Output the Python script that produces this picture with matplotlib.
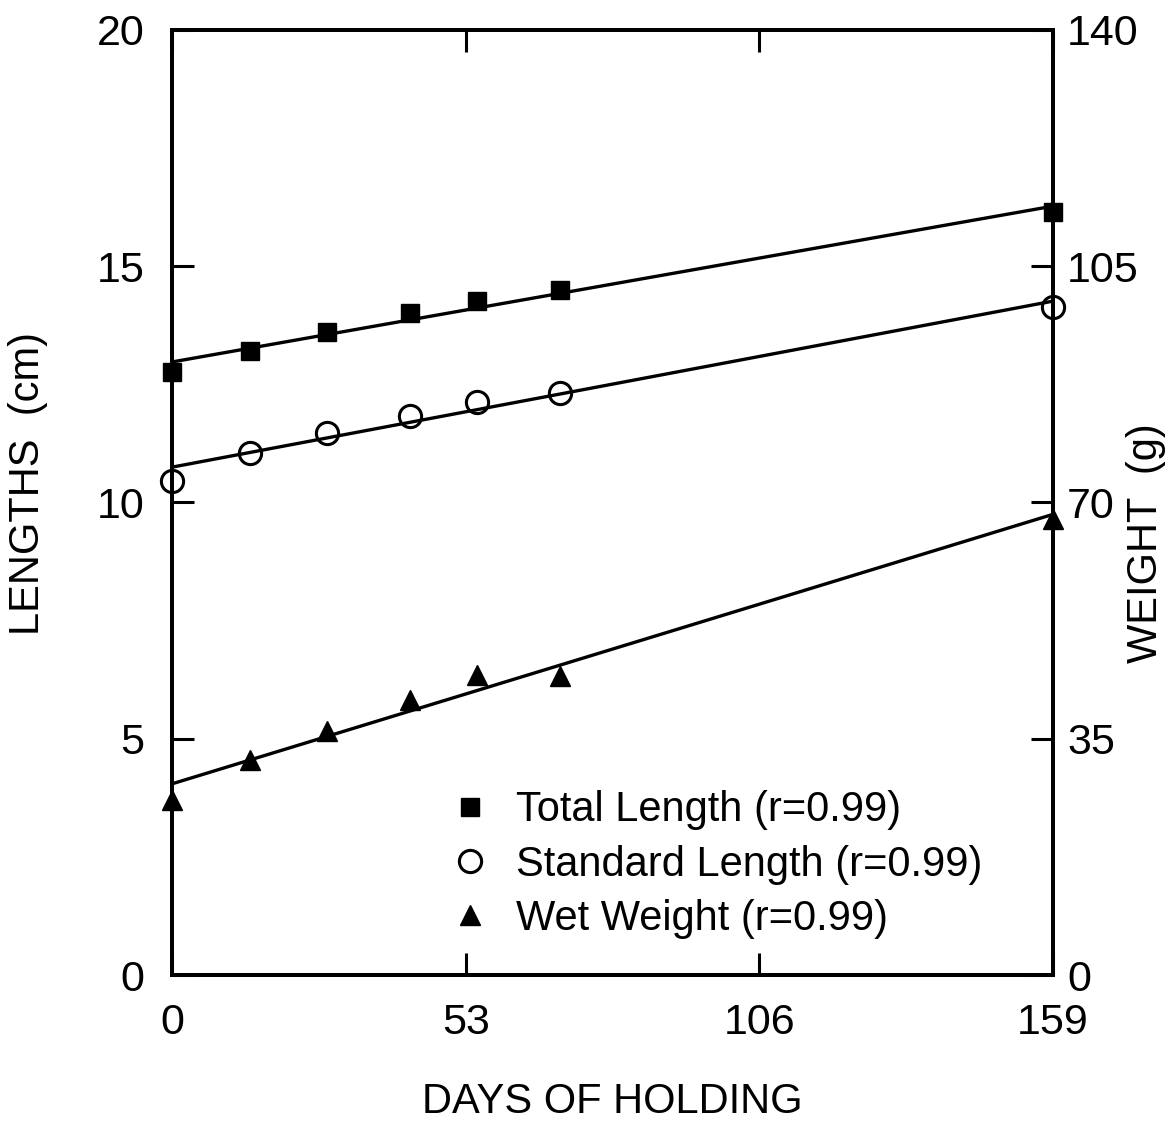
import numpy as np
import matplotlib.pyplot as plt

plt.rcParams['font.family'] = ['Liberation Sans', 'DejaVu Sans']

# Data
days = [0, 14, 28, 43, 55, 70, 159]
total_length = [12.76, 13.2, 13.6, 14.0, 14.26, 14.5, 16.15]
standard_length = [10.45, 11.05, 11.47, 11.83, 12.13, 12.32, 14.14]
wet_weight = [25.9, 31.9, 36.1, 40.7, 44.4, 44.3, 67.6]

labels = ['Total Length (r=0.99)', 'Standard Length (r=0.99)', 'Wet Weight (r=0.99)']
x_ticks = [0, 53, 106, 159]
len_ticks = [0, 5, 10, 15, 20]
wt_ticks = [0, 35, 70, 105, 140]

fig = plt.figure(figsize=(11.74, 11.22), dpi=100)
ax = fig.add_axes([0.1465, 0.131, 0.7505, 0.8423])
ax2 = ax.twinx()

xfit = np.array([0, 159])

# fitted regression lines
for y, a in [(total_length, ax), (standard_length, ax), (wet_weight, ax2)]:
    m, b = np.polyfit(days, y, 1)
    a.plot(xfit, m * xfit + b, color='black', lw=2.4, clip_on=False, zorder=2)

h1, = ax.plot(days, total_length, 's', color='black', ms=13, clip_on=False, zorder=3)
h2, = ax.plot(days, standard_length, 'o', mfc='none', mec='black', mew=2.2, ms=16,
              clip_on=False, zorder=3)
h3, = ax2.plot(days, wet_weight, '^', color='black', ms=15, clip_on=False, zorder=3)

ax.set_xlim(0, 159)
ax.set_ylim(0, 20)
ax2.set_ylim(0, 140)
ax.set_xticks(x_ticks)
ax.set_yticks(len_ticks)
ax2.set_yticks(wt_ticks)

for a in (ax, ax2):
    for s in a.spines.values():
        s.set_linewidth(2.8)
ax.tick_params(axis='both', direction='in', length=16, width=2.2, labelsize=31,
               top=True, right=False)
ax.tick_params(axis='x', pad=20)
ax.tick_params(axis='y', pad=20)
ax2.tick_params(axis='y', direction='in', length=16, width=2.2, labelsize=31, pad=10)

ax.set_xlabel('DAYS OF HOLDING', fontsize=30, labelpad=28)
ax.set_ylabel('LENGTHS  (cm)', fontsize=30)
ax2.set_ylabel('WEIGHT  (g)', fontsize=30)
ax.yaxis.set_label_coords(-0.141, 0.52)
ax2.yaxis.set_label_coords(1.083, 0.457)

ax.legend([h1, h2, h3], labels, loc='upper left', bbox_to_anchor=(0.272, 0.213),
          frameon=False, fontsize=30, handletextpad=0.1, labelspacing=0.34,
          borderaxespad=0, markerscale=1.0)

fig.savefig('out.png', dpi=100)
